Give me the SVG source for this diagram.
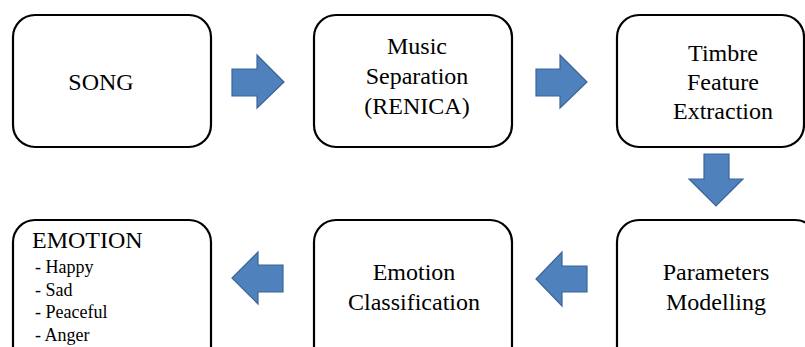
<svg xmlns="http://www.w3.org/2000/svg" width="805" height="347" viewBox="0 0 805 347">
<style>
.box{fill:#fff;stroke:#000;stroke-width:2.2}
text{font-family:'Liberation Serif','DejaVu Serif',serif;fill:#000}
.t{font-size:24px;text-anchor:middle}
.l{font-size:18px}
.arr{fill:#4F81BD;stroke:#3A6596;stroke-width:1.2;stroke-linejoin:miter}
</style>
<rect width="805" height="347" fill="#fff"/>
<g id="song">
<rect class="box" x="13" y="15" width="198" height="132" rx="22"/>
<text class="t" x="101" y="90">SONG</text>
</g>
<g id="separation">
<rect class="box" x="314" y="15" width="198" height="132" rx="22"/>
<text class="t" x="417" y="54">Music</text>
<text class="t" x="417" y="84">Separation</text>
<text class="t" x="417" y="114">(RENICA)</text>
</g>
<g id="timbre">
<rect class="box" x="617" y="15" width="187" height="132" rx="22"/>
<text class="t" x="723" y="61">Timbre</text>
<text class="t" x="723" y="90">Feature</text>
<text class="t" x="723" y="119">Extraction</text>
</g>
<g id="parameters">
<rect class="box" x="617" y="220" width="200" height="150" rx="22"/>
<text class="t" x="716" y="280">Parameters</text>
<text class="t" x="716" y="310">Modelling</text>
</g>
<g id="classification">
<rect class="box" x="314" y="220" width="198" height="150" rx="22"/>
<text class="t" x="414" y="280">Emotion</text>
<text class="t" x="414" y="310">Classification</text>
</g>
<g id="emotion">
<rect class="box" x="13" y="220" width="198" height="150" rx="22"/>
<text x="32" y="248" font-size="24">EMOTION</text>
<text class="l" x="35" y="273">- Happy</text>
<text class="l" x="35" y="296">- Sad</text>
<text class="l" x="35" y="318">- Peaceful</text>
<text class="l" x="35" y="341">- Anger</text>
</g>
<g id="connectors">
<polygon class="arr" points="232,69 257,69 257,55 284,82 257,108 257,96 232,96"/>
<polygon class="arr" points="536,69 560,69 560,55 587,82 560,108 560,96 536,96"/>
<polygon class="arr" points="704,154 729,154 729,179 743,179 716,206 689,179 704,179"/>
<polygon class="arr" points="587,266 562,266 562,252 536,279 562,306 562,292 587,292"/>
<polygon class="arr" points="283,265 258,265 258,252 232,278 258,304 258,292 283,292"/>
</g>
</svg>
